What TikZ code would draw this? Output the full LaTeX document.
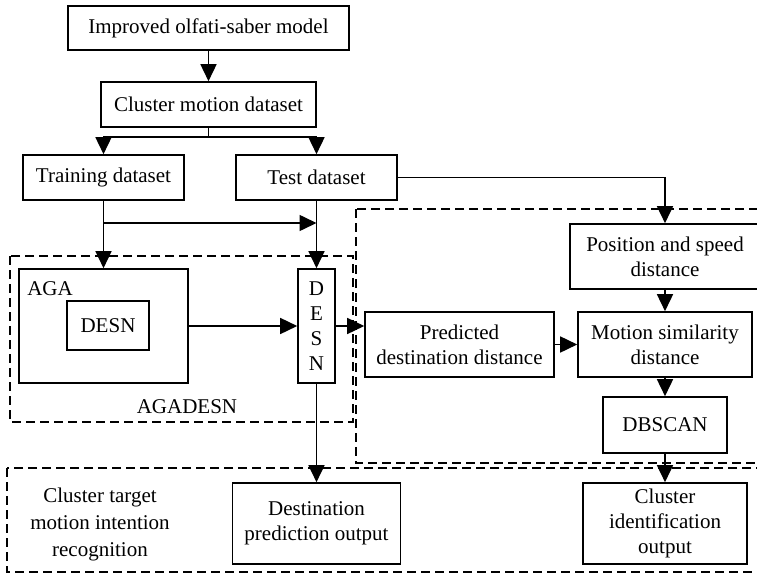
\documentclass[tikz,border=0pt]{standalone}
\usepackage{fontspec}
\setmainfont{Liberation Serif}
\usetikzlibrary{arrows.meta}
\tikzset{
  box/.style={draw, line width=1.6pt, inner sep=0pt, align=center, anchor=center},
  lbl/.style={inner sep=0pt, align=center, anchor=center},
  conn/.style={line width=1.6pt, -{Triangle[length=17pt,width=16pt]}},
  plain/.style={line width=1.6pt},
  dbox/.style={line width=1.4pt, dash pattern=on 9pt off 5pt},
}
\begin{document}
\begin{tikzpicture}[x=1pt,y=-1pt,font=\fontsize{21}{25}\selectfont\rmfamily]
\useasboundingbox (0,0) rectangle (757,578);
\clip (0,0) rectangle (757,578);
% dashed groups
\draw[dbox] (10,256) rectangle (353,422);
\draw[dbox] (356,209) rectangle (800,463);
\draw[dbox] (7,468) rectangle (800,572);
% nodes
\node[box, minimum width=281pt, minimum height=44pt] (imp) at (208.5,28) {Improved olfati-saber model};
\node[box, minimum width=215pt, minimum height=45pt] (cmd) at (208.5,104.5) {Cluster motion dataset};
\node[box, minimum width=161pt, minimum height=45pt] (train) at (103.5,177.5) {Training dataset};
\node[box, minimum width=161pt, minimum height=45pt] (test) at (316.5,177.5) {Test dataset};
\node[box, minimum width=169pt, minimum height=114pt] (aga) at (103.5,326) {};
\node[lbl] (agalbl) at (50,289) {AGA};
\node[box, minimum width=82pt, minimum height=49pt] (desnin) at (108,325.5) {DESN};
\node[box, minimum width=37pt, minimum height=114pt] (desnv) at (316.5,326) {D\\E\\S\\N};
\node[lbl] (agadesn) at (187,407) {AGADESN};
\node[box, minimum width=189pt, minimum height=65pt] (pred) at (459.5,344.5) {Predicted\\destination distance};
\node[box, minimum width=190pt, minimum height=65pt] (pos) at (665,256.5) {Position and speed\\distance};
\node[box, minimum width=174pt, minimum height=65pt] (mot) at (665,344.5) {Motion similarity\\distance};
\node[box, minimum width=124pt, minimum height=56pt] (db) at (665,425) {DBSCAN};
\node[box, minimum width=168pt, minimum height=81pt] (dpo) at (316.5,523.5) {Destination\\prediction output};
\node[box, minimum width=164pt, minimum height=81pt] (cio) at (665,523.5) {Cluster\\identification\\output};
\node[lbl, font=\fontsize{21}{27}\selectfont] (ctm) at (100,524) {Cluster target\\motion intention\\recognition};
% connectors
\draw[conn] (imp) -- (cmd);
\coordinate (split) at (208.5,137);
\draw[plain] (cmd.south) -- (split);
\draw[conn] (split) -| (train.north);
\draw[conn] (split) -| (test.north);
\draw[conn] (train) -- (aga);
\coordinate (j1) at (103.5,223);
\coordinate (j2) at (316.5,223);
\draw[conn] (j1) -- (j2);
\draw[conn] (test) -- (desnv);
\draw[conn] (test.east) -| (pos.north);
\draw[conn] (aga.east) -- (desnv.west);
\draw[conn] (desnv.east) -- (desnv.east -| pred.west);
\draw[conn] (pred) -- (mot);
\draw[conn] (pos) -- (mot);
\draw[conn] (mot) -- (db);
\draw[conn] (db) -- (cio);
\draw[conn] (desnv) -- (dpo);
\end{tikzpicture}
\end{document}
